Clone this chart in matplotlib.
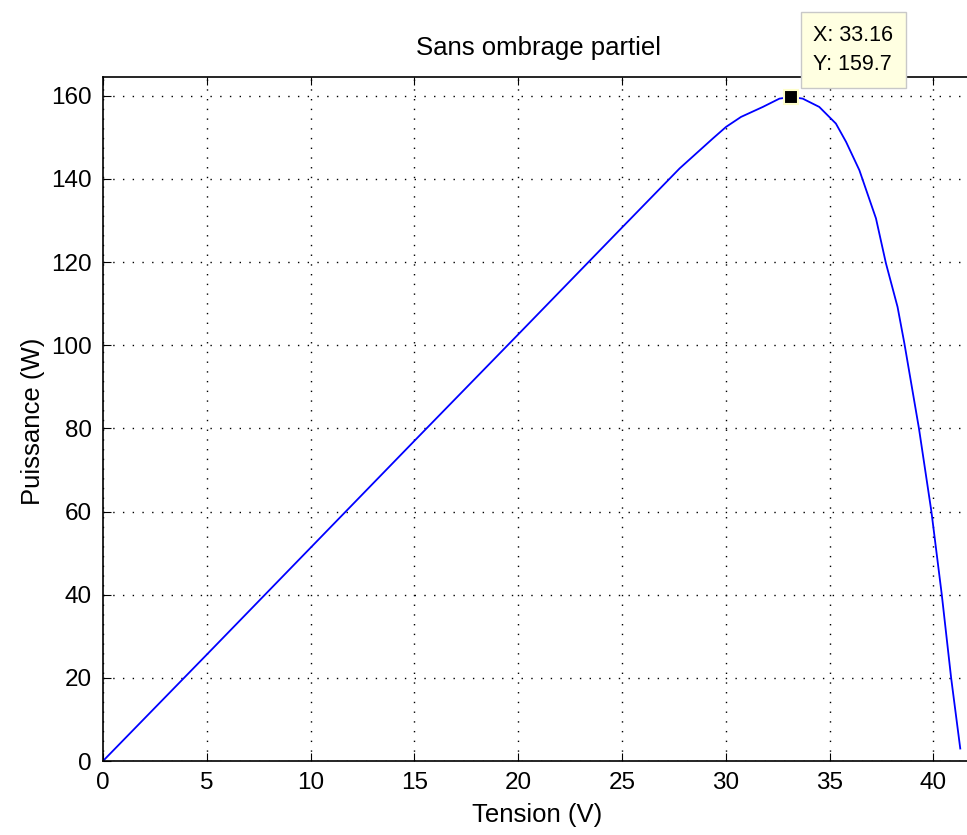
import matplotlib
matplotlib.use('Agg')
import matplotlib.pyplot as plt
import numpy as np

# P-V curve
tension = [0, 5, 10, 15, 20, 25, 27.77, 29.37, 30.01, 30.73, 31.78, 32.58, 33.16,
           33.7, 34.5, 35.3, 35.79, 36.43, 37.23, 37.71, 38.27, 38.6, 39.3, 39.9,
           40.4, 40.85, 41.29]
puissance = [0, 25.6, 51.3, 77, 102.6, 128.3, 142.5, 149.7, 152.5, 154.9, 157.3,
             159.3, 159.7, 159.3, 157.3, 153.3, 148.9, 142.1, 130.5, 119.7, 109.2,
             100.4, 80, 60, 40, 20, 3.0]
mpp_v, mpp_p = 33.16, 159.7
xticks = [0, 5, 10, 15, 20, 25, 30, 35, 40]
yticks = [0, 20, 40, 60, 80, 100, 120, 140, 160]

plt.rcParams['font.family'] = ['Liberation Sans', 'DejaVu Sans']

fig = plt.figure(figsize=(9.67, 8.35), dpi=100)
ax = fig.add_axes([103/967, (835-761)/835, (975-103)/967, (761-77)/835])

ax.plot(tension, puissance, color='#0000ff', lw=1.3)
ax.plot(mpp_v, mpp_p, 's', color='black', ms=10, mec='#ffffcc', mew=1.5, zorder=5)
ax.annotate('X: %.2f\nY: %.1f' % (mpp_v, mpp_p), xy=(mpp_v, mpp_p),
            xytext=(22, 22), textcoords='offset pixels', fontsize=15.5,
            ha='left', va='bottom', linespacing=1.5, annotation_clip=False,
            bbox=dict(boxstyle='square,pad=0.6', fc='#ffffe1', ec='#c8c8c8', lw=1),
            zorder=6)

ax.set_xlim(0, 42)
ax.set_ylim(0, 164.5)
ax.set_xticks(xticks)
ax.set_yticks(yticks)
ax.tick_params(direction='in', length=6, labelsize=17.5, top=True, right=True, pad=8)
ax.grid(True, color='black', linestyle=(0, (1, 6)), lw=1)
for s in ax.spines.values():
    s.set_linewidth(1.2)

ax.set_title('Sans ombrage partiel', fontsize=18.5, pad=16)
ax.set_xlabel('Tension (V)', fontsize=18.5)
ax.set_ylabel('Puissance (W)', fontsize=18.5)
ax.xaxis.set_label_coords(0.498, -0.061)
ax.yaxis.set_label_coords(-0.0665, 0.496)

fig.savefig('out.png', dpi=100)
